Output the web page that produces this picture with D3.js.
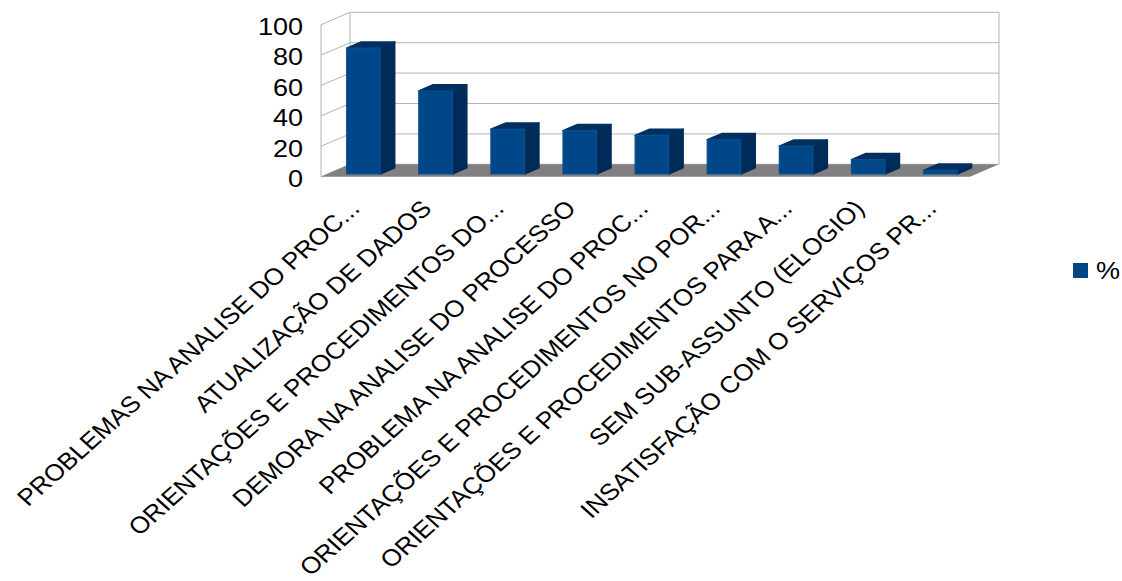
<!DOCTYPE html>
<html>
<head>
<meta charset="utf-8">
<script src="https://cdn.jsdelivr.net/npm/d3@7"></script>
<style>
  html, body { margin: 0; padding: 0; background: #fff; }
  svg text { font-family: "Liberation Sans", Arial, sans-serif; fill: #000; }
</style>
</head>
<body>
<svg id="chart" width="1122" height="581"></svg>
<script>
// Subjects of the complaints and their share (%)
const categories = [
  "PROBLEMAS NA ANALISE DO PROC...",
  "ATUALIZAÇÃO DE DADOS",
  "ORIENTAÇÕES E PROCEDIMENTOS DO...",
  "DEMORA NA ANALISE DO PROCESSO",
  "PROBLEMA NA ANALISE DO PROC...",
  "ORIENTAÇÕES E PROCEDIMENTOS NO POR...",
  "ORIENTAÇÕES E PROCEDIMENTOS PARA A...",
  "SEM SUB-ASSUNTO (ELOGIO)",
  "INSATISFAÇÃO COM O SERVIÇOS PR..."
];
const percent = [82.8, 54.6, 29.4, 28.5, 25.4, 22.5, 18.3, 9.4, 2.4];
const yTicks = [0, 20, 40, 60, 80, 100];
const seriesName = "%";

const svg = d3.select("#chart");

// 3D box: front plane of the floor, plus a depth offset toward the back wall
const frontLeft = 321, frontRight = 970;
const depthX = 29, depthY = 12.4;
const textStretch = 1.12;
const labelSize = 23.3;

const x = d3.scaleBand()
  .domain(categories)
  .range([frontLeft, frontRight])
  .paddingInner(0.535)
  .paddingOuter(0.2675);

const y = d3.scaleLinear().domain([0, 100]).range([176.7, 24.7]);

// project a point (front x, value, depth 0..1) onto the screen
const proj = (px, v, z) => [px + z * depthX, y(v) - z * depthY];
const poly = pts => "M" + pts.map(p => p.join(",")).join("L") + "Z";

const gridColor = "#b3b3b3";

// back wall gridlines and frame
const back = svg.append("g");
const seg = (a, b) => back.append("line")
  .attr("x1", a[0]).attr("y1", a[1]).attr("x2", b[0]).attr("y2", b[1])
  .attr("stroke", gridColor).attr("stroke-width", 1);

yTicks.forEach(t => seg(proj(frontLeft, t, 1), proj(frontRight, t, 1)));
[frontLeft, frontRight].forEach(px => seg(proj(px, 0, 1), proj(px, 100, 1)));

// side wall gridlines and front axis edge
yTicks.forEach(t => seg(proj(frontLeft, t, 0), proj(frontLeft, t, 1)));
seg(proj(frontLeft, 0, 0), proj(frontLeft, 100, 0));

// floor
svg.append("path")
  .attr("d", poly([
    proj(frontLeft, 0, 0), proj(frontLeft, 0, 1),
    proj(frontRight, 0, 1), proj(frontRight, 0, 0)
  ]))
  .attr("fill", "#808080");

// bars
const z0 = 0.22, z1 = 0.72;
const bars = svg.append("g").selectAll("g")
  .data(categories.map((c, i) => ({ c, v: percent[i] })))
  .join("g");

bars.each(function (d) {
  const g = d3.select(this);
  const x0 = x(d.c), x1 = x0 + x.bandwidth();
  const side = [proj(x1, 0, z0), proj(x1, 0, z1), proj(x1, d.v, z1), proj(x1, d.v, z0)];
  const top = [proj(x0, d.v, z0), proj(x1, d.v, z0), proj(x1, d.v, z1), proj(x0, d.v, z1)];
  const front = [proj(x0, 0, z0), proj(x1, 0, z0), proj(x1, d.v, z0), proj(x0, d.v, z0)];
  g.append("path").attr("d", poly(side))
    .attr("fill", "#002b58").attr("stroke", "#002b58").attr("stroke-linejoin", "round").attr("stroke-width", 1.5);
  g.append("path").attr("d", poly(top))
    .attr("fill", "#00305f").attr("stroke", "#00305f").attr("stroke-linejoin", "round").attr("stroke-width", 1.5);
  g.append("path").attr("d", poly(front))
    .attr("fill", "#00478a").attr("stroke", "#0a4f92").attr("stroke-linejoin", "round").attr("stroke-width", 1.2);
});

// value axis labels
svg.append("g").selectAll("text")
  .data(yTicks)
  .join("text")
  .attr("transform", t => `translate(303,${y(t) + 2}) scale(1.15,1)`)
  .attr("text-anchor", "end")
  .attr("dominant-baseline", "central")
  .attr("font-size", 23.5)
  .text(t => t);

// category labels, rotated
svg.append("g").selectAll("text")
  .data(categories)
  .join("text")
  .attr("transform", c => `translate(${x(c) + x.bandwidth() / 2 + 4},210) scale(${textStretch},1) rotate(-45)`)
  .attr("text-anchor", "end")
  .attr("font-size", labelSize)
  .text(c => c);

// legend
const legend = svg.append("g");
legend.append("rect")
  .attr("x", 1073).attr("y", 263).attr("width", 15).attr("height", 15)
  .attr("fill", "#004586");
legend.append("text")
  .attr("transform", `translate(1096,271) scale(1.15,1)`)
  .attr("dominant-baseline", "central")
  .attr("font-size", 23.5)
  .text(seriesName);
</script>
</body>
</html>
